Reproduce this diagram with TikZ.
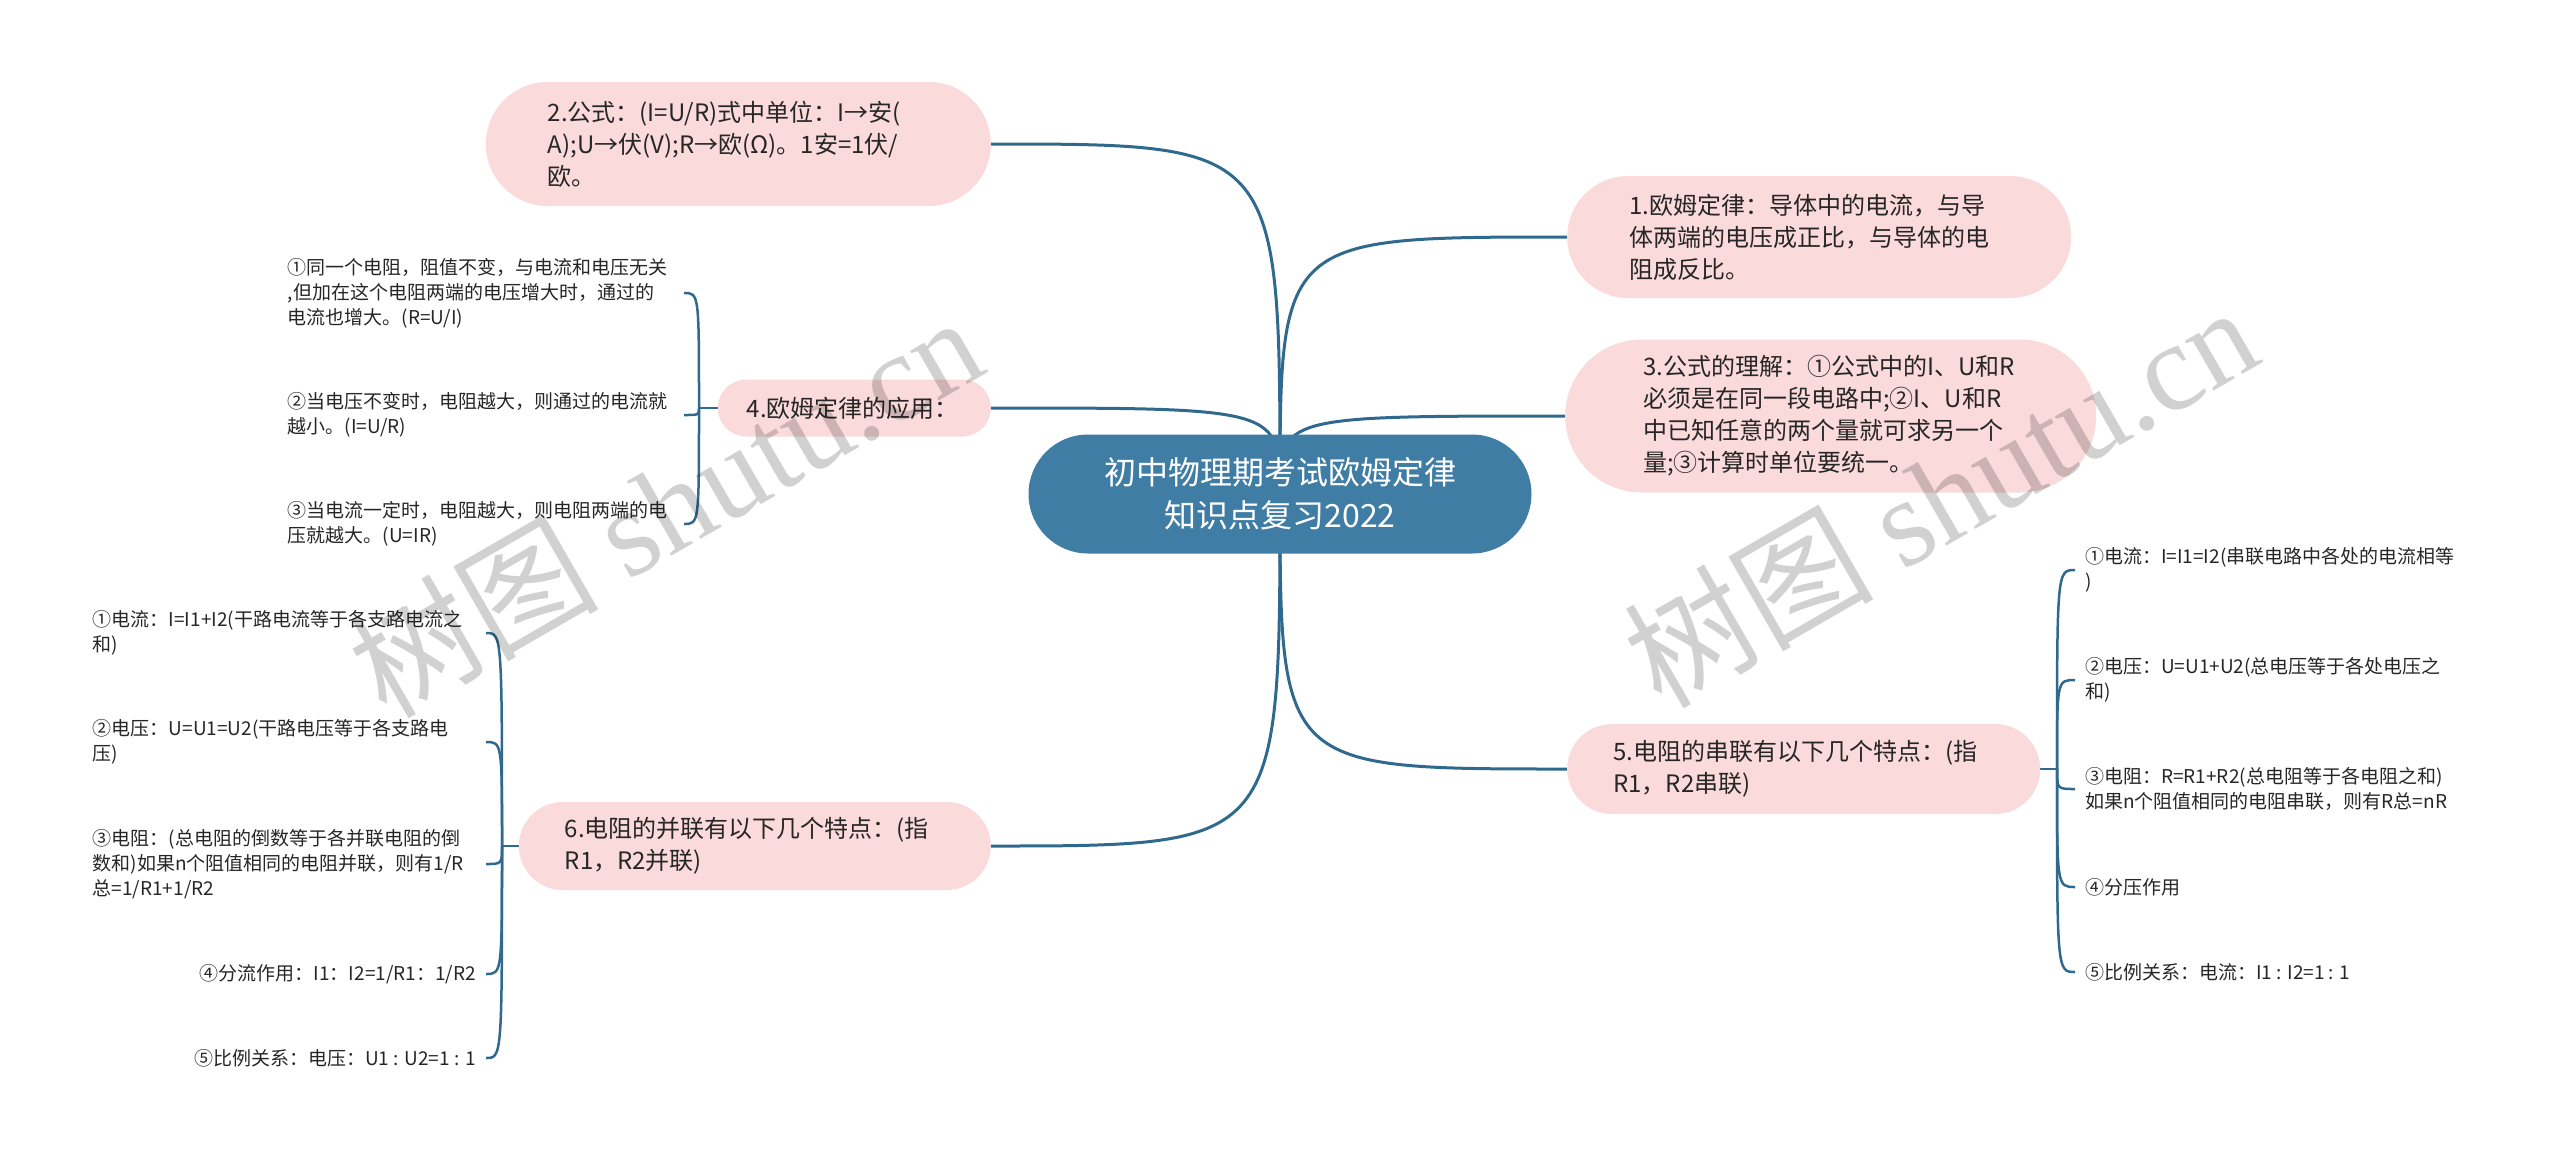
\documentclass[tikz,border=0pt]{standalone}
\usepackage{fontspec}
\setmainfont{Noto Sans CJK SC}
\newfontfamily\wmfont{Liberation Serif}
\usetikzlibrary{backgrounds}

\definecolor{rootblue}{HTML}{3F7DA5}
\definecolor{linkblue}{HTML}{2F6A8E}
\definecolor{pinkfill}{HTML}{FADADA}
\definecolor{inkgray}{HTML}{262626}

\tikzset{
    rootbox/.style={rectangle, rounded corners=59.5pt, fill=rootblue, text=white,
        minimum width=503pt, minimum height=119pt, align=center,
        font=\fontsize{32}{43}\selectfont},
    topicbox/.style n args={4}{rectangle, fill=pinkfill, text=inkgray,
        text width=#1, inner xsep=#2, inner ysep=6pt, align=left,
        minimum height=#3, rounded corners=#4,
        font=\fontsize{24}{32}\selectfont},
    leafbox/.style={inner xsep=10pt, inner ysep=2pt, text=inkgray, align=left,
        font=\fontsize{19}{25}\selectfont},
    branchline/.style={draw=linkblue, line width=3pt},
    twigline/.style={draw=linkblue, line width=2.5pt},
    wmtext/.style={text=black, opacity=0.18, rotate=30,
        font=\fontsize{125}{125}\selectfont}
}

\begin{document}
\begin{tikzpicture}[x=1pt, y=-1pt]
\useasboundingbox (0,0) rectangle (2560,1163);

% centre
\node[rootbox] (root) at (1280, 494) {初中物理期考试欧姆定律\\知识点复习2022};

% left topics
\node[topicbox={381pt}{62pt}{124pt}{62pt}, anchor=east] (n2) at (991, 144)
    {2.公式：(I=U/R)式中单位：I→安(\\A);U→伏(V);R→欧(Ω)。1安=1伏/\\欧。};
\node[topicbox={215pt}{29pt}{57pt}{28.5pt}, anchor=east] (n4) at (991, 408) {4.欧姆定律的应用：};
\node[topicbox={380pt}{46pt}{88pt}{44pt}, anchor=east] (n6) at (991, 846)
    {6.电阻的并联有以下几个特点：(指\\R1，R2并联)};

% right topics
\node[topicbox={380pt}{62pt}{122pt}{61pt}, anchor=west] (n1) at (1567, 237)
    {1.欧姆定律：导体中的电流，与导\\体两端的电压成正比，与导体的电\\阻成反比。};
\node[topicbox={375pt}{78pt}{153pt}{76.5pt}, anchor=west] (n3) at (1565, 416)
    {3.公式的理解：①公式中的I、U和R\\必须是在同一段电路中;②I、U和R\\中已知任意的两个量就可求另一个\\量;③计算时单位要统一。};
\node[topicbox={381pt}{46pt}{90pt}{45pt}, anchor=west] (n5) at (1567, 769)
    {5.电阻的串联有以下几个特点：(指\\R1，R2串联)};

% leaves of 4
\coordinate (j4) at (699, 408);
\node[leafbox, text width=386pt, anchor=east] (l4a) at (684, 293)
    {①同一个电阻，阻值不变，与电流和电压无关\\,但加在这个电阻两端的电压增大时，通过的\\电流也增大。(R=U/I)};
\node[leafbox, text width=386pt, anchor=east] (l4b) at (684, 415)
    {②当电压不变时，电阻越大，则通过的电流就\\越小。(I=U/R)};
\node[leafbox, text width=386pt, anchor=east] (l4c) at (684, 524)
    {③当电流一定时，电阻越大，则电阻两端的电\\压就越大。(U=IR)};

% leaves of 6
\coordinate (j6) at (502, 846);
\node[leafbox, text width=383pt, anchor=east] (l6a) at (486, 633)
    {①电流：I=I1+I2(干路电流等于各支路电流之\\和)};
\node[leafbox, text width=383pt, anchor=east] (l6b) at (486, 742)
    {②电压：U=U1=U2(干路电压等于各支路电\\压)};
\node[leafbox, text width=383pt, anchor=east] (l6c) at (486, 864)
    {③电阻：(总电阻的倒数等于各并联电阻的倒\\数和)如果n个阻值相同的电阻并联，则有1/R\\总=1/R1+1/R2};
\node[leafbox, anchor=east] (l6d) at (486, 974) {④分流作用：I1：I2=1/R1：1/R2};
\node[leafbox, anchor=east] (l6e) at (486, 1058) {⑤比例关系：电压：U1 : U2=1 : 1};

% leaves of 5
\coordinate (j5) at (2057, 769);
\node[leafbox, anchor=west] (l5a) at (2075, 570)
    {①电流：I=I1=I2(串联电路中各处的电流相等\\)};
\node[leafbox, anchor=west] (l5b) at (2075, 680)
    {②电压：U=U1+U2(总电压等于各处电压之\\和)};
\node[leafbox, anchor=west] (l5c) at (2075, 789)
    {③电阻：R=R1+R2(总电阻等于各电阻之和)\\如果n个阻值相同的电阻串联，则有R总=nR};
\node[leafbox, anchor=west] (l5d) at (2075, 887) {④分压作用};
\node[leafbox, anchor=west] (l5e) at (2075, 972) {⑤比例关系：电流：I1 : I2=1 : 1};

\begin{scope}[on background layer]
    \foreach \t/\s in {n2/east, n4/east, n6/east, n1/west, n3/west, n5/west}
        \draw[branchline] (root.center) .. controls (root.center |- \t.\s) .. (\t.\s);

    \draw[twigline] (n4.west) -- (j4);
    \foreach \l in {l4a, l4b, l4c}
        \draw[twigline] (j4) .. controls (j4 |- \l.east) .. (\l.east);

    \draw[twigline] (n6.west) -- (j6);
    \foreach \l in {l6a, l6b, l6c, l6d, l6e}
        \draw[twigline] (j6) .. controls (j6 |- \l.east) .. (\l.east);

    \draw[twigline] (n5.east) -- (j5);
    \foreach \l in {l5a, l5b, l5c, l5d, l5e}
        \draw[twigline] (j5) .. controls (j5 |- \l.west) .. (\l.west);
\end{scope}

% watermark
\node[wmtext] (wm1) at (665, 505) {树图 {\wmfont shutu.cn}};
\node[wmtext] (wm2) at (1940, 495) {树图 {\wmfont shutu.cn}};

\end{tikzpicture}
\end{document}
